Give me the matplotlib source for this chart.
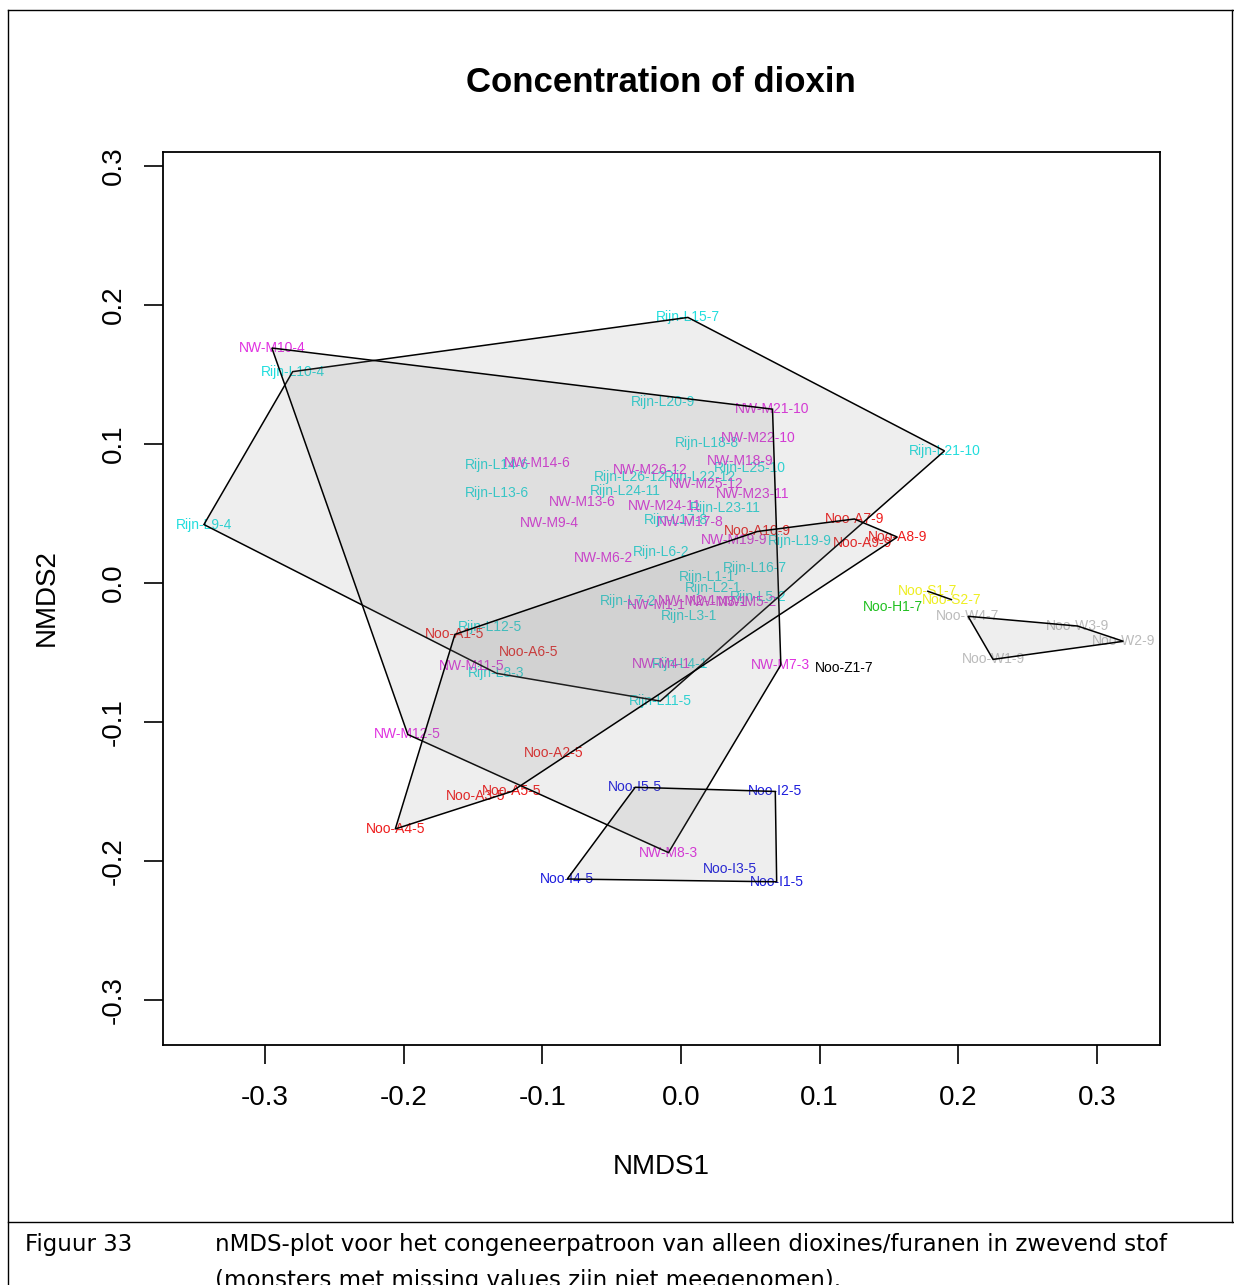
import matplotlib
matplotlib.use("Agg")
from matplotlib import pyplot as plt
from matplotlib.lines import Line2D
from matplotlib.patches import Polygon

plt.rcParams['font.family'] = ['Liberation Sans', 'DejaVu Sans']

# nMDS scores per group
rijn_names = ['Rijn-L15-7', 'Rijn-L10-4', 'Rijn-L9-4', 'Rijn-L21-10', 'Rijn-L20-9', 'Rijn-L18-8',
              'Rijn-L14-6', 'Rijn-L13-6', 'Rijn-L26-12', 'Rijn-L22-12', 'Rijn-L24-11', 'Rijn-L23-11',
              'Rijn-L17-8', 'Rijn-L25-10', 'Rijn-L19-9', 'Rijn-L16-7', 'Rijn-L6-2', 'Rijn-L1-1',
              'Rijn-L2-1', 'Rijn-L5-2', 'Rijn-L3-1', 'Rijn-L7-2', 'Rijn-L4-1', 'Rijn-L12-5',
              'Rijn-L8-3', 'Rijn-L11-5']
rijn_x = [0.005, -0.280, -0.344, 0.190, -0.013, 0.019, -0.133, -0.133, -0.037, 0.014, -0.040, 0.032,
          -0.004, 0.050, 0.086, 0.053, -0.014, 0.019, 0.023, 0.056, 0.006, -0.038, -0.001, -0.138,
          -0.133, -0.015]
rijn_y = [0.191, 0.152, 0.042, 0.095, 0.130, 0.101, 0.085, 0.065, 0.076, 0.076, 0.066, 0.054,
          0.045, 0.083, 0.030, 0.011, 0.022, 0.004, -0.004, -0.010, -0.024, -0.013, -0.058, -0.032,
          -0.065, -0.085]

nw_names = ['NW-M10-4', 'NW-M21-10', 'NW-M22-10', 'NW-M14-6', 'NW-M26-12', 'NW-M18-9', 'NW-M25-12',
            'NW-M23-11', 'NW-M13-6', 'NW-M24-11', 'NW-M9-4', 'NW-M17-8', 'NW-M19-9', 'NW-M6-2',
            'NW-M7-3', 'NW-M4-1', 'NW-M11-5', 'NW-M12-5', 'NW-M8-3', 'NW-M1-1', 'NW-M2-1',
            'NW-M3-1', 'NW-M5-2']
nw_x = [-0.295, 0.066, 0.056, -0.104, -0.022, 0.043, 0.018, 0.052, -0.071, -0.012, -0.095, 0.007,
        0.038, -0.056, 0.072, -0.014, -0.151, -0.197, -0.009, -0.018, 0.005, 0.027, 0.048]
nw_y = [0.169, 0.125, 0.104, 0.086, 0.081, 0.088, 0.071, 0.064, 0.058, 0.055, 0.043, 0.044,
        0.031, 0.018, -0.059, -0.058, -0.060, -0.109, -0.194, -0.016, -0.013, -0.014, -0.014]

nooa_names = ['Noo-A1-5', 'Noo-A6-5', 'Noo-A2-5', 'Noo-A3-5', 'Noo-A5-5', 'Noo-A4-5',
              'Noo-A10-9', 'Noo-A7-9', 'Noo-A9-9', 'Noo-A8-9']
nooa_x = [-0.163, -0.110, -0.092, -0.148, -0.122, -0.206, 0.055, 0.125, 0.131, 0.156]
nooa_y = [-0.037, -0.050, -0.122, -0.153, -0.150, -0.177, 0.037, 0.046, 0.029, 0.033]

nooi_names = ['Noo-I5-5', 'Noo-I2-5', 'Noo-I1-5', 'Noo-I3-5', 'Noo-I4-5']
nooi_x = [-0.033, 0.068, 0.069, 0.035, -0.082]
nooi_y = [-0.147, -0.150, -0.215, -0.206, -0.213]

noow_names = ['Noo-W4-7', 'Noo-W3-9', 'Noo-W2-9', 'Noo-W1-9']
noow_x = [0.207, 0.286, 0.319, 0.225]
noow_y = [-0.024, -0.031, -0.042, -0.055]

noos_names = ['Noo-S1-7', 'Noo-S2-7']
noos_x = [0.178, 0.195]
noos_y = [-0.006, -0.012]

nooh_names = ['Noo-H1-7']
nooh_x = [0.153]
nooh_y = [-0.017]

nooz_names = ['Noo-Z1-7']
nooz_x = [0.118]
nooz_y = [-0.061]

groups = [
    (rijn_names, rijn_x, rijn_y, '#22dddd'),
    (nw_names, nw_x, nw_y, '#e030e0'),
    (nooa_names, nooa_x, nooa_y, '#ee1c1c'),
    (nooi_names, nooi_x, nooi_y, '#1c1cdd'),
    (noow_names, noow_x, noow_y, '#bbbbbb'),
    (noos_names, noos_x, noos_y, '#eeee20'),
    (nooh_names, nooh_x, nooh_y, '#20c020'),
    (nooz_names, nooz_x, nooz_y, '#000000'),
]

xticks = [-0.3, -0.2, -0.1, 0.0, 0.1, 0.2, 0.3]
yticks = [-0.3, -0.2, -0.1, 0.0, 0.1, 0.2, 0.3]


def hull(xs, ys):
    pts = sorted(set(zip(xs, ys)))
    if len(pts) < 3:
        return pts

    def cross(o, a, b):
        return (a[0] - o[0]) * (b[1] - o[1]) - (a[1] - o[1]) * (b[0] - o[0])

    lower, upper = [], []
    for p in pts:
        while len(lower) >= 2 and cross(lower[-2], lower[-1], p) <= 0:
            lower.pop()
        lower.append(p)
    for p in reversed(pts):
        while len(upper) >= 2 and cross(upper[-2], upper[-1], p) <= 0:
            upper.pop()
        upper.append(p)
    return lower[:-1] + upper[:-1]


fig = plt.figure(figsize=(12.34, 12.85), dpi=100)
ax = fig.add_axes([163 / 1234, 1 - 1045 / 1285, 997 / 1234, 893 / 1285])

for names, xs, ys, col in groups:
    for n, x, y in zip(names, xs, ys):
        ax.text(x, y, n, color=col, fontsize=10, ha='center', va='center', zorder=2)
    h = hull(xs, ys)
    if len(h) >= 3:
        ax.add_patch(Polygon(h, closed=True, facecolor=(0.5, 0.5, 0.5, 0.13),
                             edgecolor='black', lw=1.1, zorder=3))
    elif len(h) == 2:
        ax.plot([h[0][0], h[1][0]], [h[0][1], h[1][1]], color='black', lw=1.1, zorder=3)

ax.set_xlim(-0.3735, 0.3454)
ax.set_ylim(-0.3324, 0.310)
ax.set_xticks(xticks)
ax.set_yticks(yticks)
ax.set_xticklabels(['%.1f' % t for t in xticks])
ax.set_yticklabels(['%.1f' % t for t in yticks], rotation=90, va='center')
ax.tick_params(direction='out', length=14, width=1.2, labelsize=20, colors='black')
ax.tick_params(axis='x', pad=15)
ax.tick_params(axis='y', pad=12)
for s in ax.spines.values():
    s.set_linewidth(1.3)

fig.text(661 / 1234, 1 - 83 / 1285, 'Concentration of dioxin', fontsize=25, fontweight='bold',
         ha='center', va='center')
fig.text(661 / 1234, 1 - 1167 / 1285, 'NMDS1', fontsize=20, ha='center', va='center')
fig.text(47 / 1234, 1 - 598 / 1285, 'NMDS2', fontsize=20, ha='center', va='center', rotation=90)

# document frame and caption
fy = lambda p: 1 - p / 1285
fx = lambda p: p / 1234
for xs_, ys_ in [([fx(8), fx(1234)], [fy(10), fy(10)]),
                 ([fx(8), fx(8)], [fy(10), fy(1285)]),
                 ([fx(1232), fx(1232)], [fy(10), fy(1222)]),
                 ([fx(8), fx(1234)], [fy(1222), fy(1222)])]:
    fig.add_artist(Line2D(xs_, ys_, color='black', lw=1.0))

cap_font = ['DejaVu Sans']
fig.text(fx(25), fy(1244), 'Figuur 33', fontsize=16.5, family=cap_font, va='center', ha='left')
fig.text(fx(215), fy(1244),
         'nMDS-plot voor het congeneerpatroon van alleen dioxines/furanen in zwevend stof',
         fontsize=16.5, family=cap_font, va='center', ha='left')
fig.text(fx(215), fy(1280), '(monsters met missing values zijn niet meegenomen).',
         fontsize=16.5, family=cap_font, va='center', ha='left')

fig.savefig('out.png', dpi=100)
